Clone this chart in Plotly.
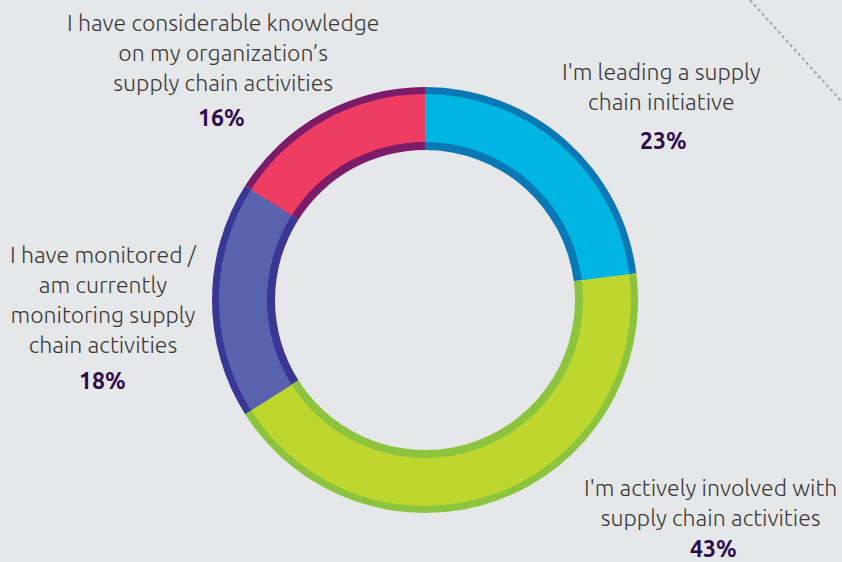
import plotly.graph_objects as go

labels = [
    "I'm leading a supply chain initiative",
    "I'm actively involved with supply chain activities",
    "I have monitored / am currently monitoring supply chain activities",
    "I have considerable knowledge on my organization's supply chain activities",
]
values = [23, 43, 18, 16]
fill_colors = ["#00b5e2", "#bed630", "#5b62ad", "#ee3d63"]
edge_colors = ["#0a78b4", "#8cc43f", "#3a3694", "#7b1c68"]

W, H = 842, 562
cx, cy = 425, 300
r_out, r_in = 213, 150
ring = 7


def domain(r):
    return dict(x=[(cx - r) / W, (cx + r) / W], y=[1 - (cy + r) / H, 1 - (cy - r) / H])


fig = go.Figure()
# darker rim (outer + inner edge)
fig.add_trace(go.Pie(
    labels=labels, values=values, sort=False, direction="clockwise",
    hole=r_in / r_out, domain=domain(r_out), textinfo="none", hoverinfo="skip",
    marker=dict(colors=edge_colors, line=dict(width=0)),
))
# main fill
r2 = r_out - ring
fig.add_trace(go.Pie(
    labels=labels, values=values, sort=False, direction="clockwise",
    hole=(r_in + ring + 1) / r2, domain=domain(r2), textinfo="none",
    marker=dict(colors=fill_colors, line=dict(width=0)),
))

txt = dict(family="Ubuntu, Open Sans, sans-serif", size=23, color="#3a3a3a", weight=300)
pct = dict(family="Ubuntu, Open Sans, sans-serif", size=23, color="#2e0a4f", weight=700)

notes = [
    (223, 52, "I have considerable knowledge<br>on my organization’s<br>supply chain activities", txt),
    (221, 117, "16%", pct),
    (661, 86, "I'm leading a supply<br>chain initiative", txt),
    (663, 140, "23%", pct),
    (103, 300, "I have monitored /<br>am currently<br>monitoring supply<br>chain activities", txt),
    (102, 380, "18%", pct),
    (710, 502, "I'm actively involved with<br>supply chain activities", txt),
    (713, 548, "43%", pct),
]
for x, y, t, f in notes:
    fig.add_annotation(x=x / W, y=1 - y / H, xref="paper", yref="paper", text=t,
                       showarrow=False, font=f, align="center",
                       xanchor="center", yanchor="middle")

fig.add_shape(type="line", xref="paper", yref="paper",
              x0=750 / W, y0=1.0, x1=842 / W, y1=1 - 102 / H,
              line=dict(color="#a3a5a8", width=2, dash="dot"))

fig.update_layout(
    width=W, height=H, margin=dict(l=0, r=0, t=0, b=0),
    paper_bgcolor="#e6e7e9", plot_bgcolor="#e6e7e9", showlegend=False,
)
fig.write_html("out.html", config={"displayModeBar": False},
               post_script="document.body.style.margin='0';")
